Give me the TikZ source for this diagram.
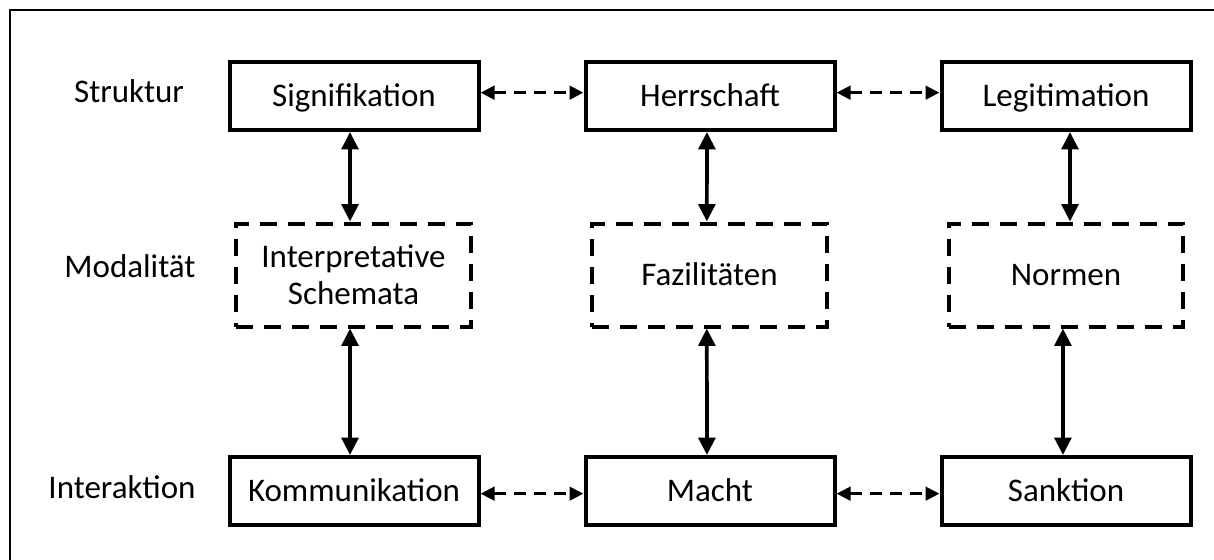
\documentclass[tikz,border=0pt]{standalone}
\usepackage{fontspec}
\setmainfont{Carlito}
\usetikzlibrary{arrows.meta}
\begin{document}
\begin{tikzpicture}[x=0.75pt,y=-0.75pt,
  txt/.style={font=\fontsize{24.75}{27.5}\selectfont, text=black},
  oneline/.style={text height=15.75pt, text depth=0pt},
  solidbox/.style={txt, oneline, draw, line width=3pt, inner sep=0pt,
    minimum width=186.75pt, minimum height=51pt},
  dashbox/.style={txt, draw, line width=3pt, inner sep=0pt,
    dash pattern=on 12.75pt off 8.25pt, minimum width=176pt, minimum height=77.25pt},
  vlink/.style={line width=2.8pt, {Triangle[length=13pt,width=12.5pt]}-{Triangle[length=13pt,width=12.5pt]}},
  hlink/.style={line width=2.5pt, dash pattern=on 9pt off 6pt,
    {Triangle[length=10.5pt,width=10pt]}-{Triangle[length=10.5pt,width=10pt]}},
  rowlabel/.style={txt, anchor=base}]
\useasboundingbox (0,0) rectangle (1214,560);
% outer frame: only its top and left sides fall inside the page
\draw[line width=2pt] (1214,10) -- (10,10) -- (10,560);

% row labels
\node[rowlabel] (lstr) at (129,103) {Struktur};
\node[rowlabel] (lmod) at (130,277) {Modalität};
\node[rowlabel] (lint) at (122,498) {Interaktion};

% structure row
\node[solidbox] (sig) at (354,96) {Signifikation};
\node[solidbox] (her) at (710,96) {Herrschaft};
\node[solidbox] (leg) at (1066,96) {Legitimation};

% modality row
\node[dashbox, align=center] (isch) at (353.5,275) {Interpretative\\Schemata};
\node[dashbox, oneline] (faz) at (709.5,275) {Fazilitäten};
\node[dashbox, oneline] (nor) at (1066,275) {Normen};

% interaction row
\node[solidbox] (kom) at (354,491) {Kommunikation};
\node[solidbox] (mac) at (710,491) {Macht};
\node[solidbox] (san) at (1066,491) {Sanktion};

% vertical links
\draw[vlink] ([xshift=-3pt]sig.south) -- ([xshift=-2.6pt]isch.north);
\draw[vlink] ([xshift=-2.6pt]isch.south) -- ([xshift=-3pt]kom.north);
\draw[vlink] ([xshift=-2.3pt]her.south) -- ([xshift=-2pt]faz.north);
\draw[vlink] ([xshift=-2pt]faz.south) -- ([xshift=-2.3pt]mac.north);
\draw[vlink] ([xshift=3pt]leg.south) -- ([xshift=3pt]nor.north);
\draw[vlink] ([xshift=-2.3pt]nor.south) -- ([xshift=-2.3pt]san.north);

% horizontal links
\draw[hlink] ([yshift=2.5pt]sig.east) -- ([yshift=2.5pt]her.west);
\draw[hlink] ([yshift=2.5pt]her.east) -- ([yshift=2.5pt]leg.west);
\draw[hlink] ([yshift=-2pt]kom.east) -- ([yshift=-2pt]mac.west);
\draw[hlink] ([yshift=-2pt]mac.east) -- ([yshift=-2pt]san.west);
\end{tikzpicture}
\end{document}
